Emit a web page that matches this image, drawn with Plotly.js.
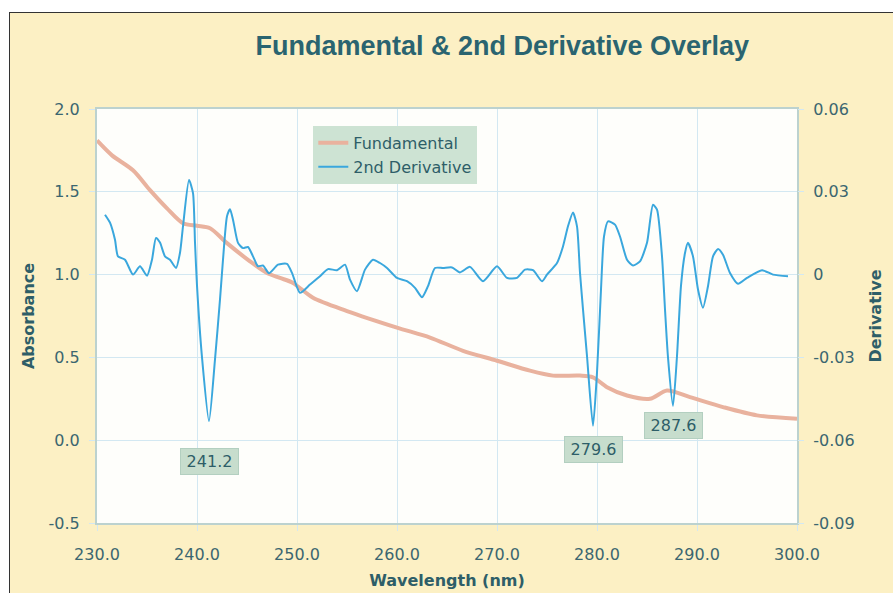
<!DOCTYPE html>
<html>
<head>
<meta charset="utf-8">
<script src="https://cdn.plot.ly/plotly-3.0.1.min.js"></script>
<style>
  html, body { margin: 0; padding: 0; background: #ffffff; overflow: hidden; width: 893px; height: 593px; }
  #frame { position: absolute; left: 9px; top: 12px; width: 900px; height: 600px; border: 1px solid #333; background: #FCF0C4; }
  #chart { width: 900px; height: 600px; }
</style>
</head>
<body>
<div id="frame"><div id="chart"></div></div>
<script>
// Fundamental absorbance spectrum (wavelength nm, absorbance)
const fundWavelength = [230.0, 231.5, 233.6, 235.3, 237.0, 238.6, 240.0, 241.3, 243.0, 245.3, 247.0, 248.3, 249.6, 251.6, 255.0, 260.0, 263.3, 266.6, 270.0, 273.3, 275.6, 278.3, 279.6, 281.0, 283.0, 285.3, 287.0, 289.3, 292.6, 296.0, 300.0];
const fundAbsorbance = [1.81, 1.72, 1.63, 1.51, 1.40, 1.31, 1.295, 1.28, 1.19, 1.08, 1.01, 0.98, 0.95, 0.86, 0.78, 0.68, 0.62, 0.54, 0.48, 0.42, 0.39, 0.39, 0.38, 0.32, 0.27, 0.25, 0.30, 0.26, 0.20, 0.15, 0.13];

// 2nd derivative spectrum (wavelength nm, derivative)
const derivWavelength = [230.8, 231.3, 231.8, 232.1, 232.8, 233.6, 234.3, 235.0, 235.5, 235.9, 236.3, 236.8, 237.3, 237.9, 238.3, 238.6, 239.2, 239.6, 239.8, 240.0, 240.5, 241.2, 241.8, 242.3, 242.6, 243.0, 243.3, 243.6, 244.1, 244.6, 245.1, 245.6, 246.1, 246.6, 247.2, 248.1, 249.0, 249.5, 250.3, 251.3, 252.3, 253.1, 254.0, 254.8, 255.3, 256.0, 256.8, 257.6, 258.3, 259.0, 260.0, 261.0, 261.8, 262.5, 263.1, 263.8, 264.6, 265.5, 266.3, 267.3, 268.6, 270.0, 271.0, 272.0, 272.8, 273.6, 274.5, 275.0, 276.0, 276.6, 277.1, 277.6, 278.0, 278.3, 278.6, 279.0, 279.6, 280.0, 280.4, 280.7, 281.1, 281.8, 282.3, 283.0, 283.6, 284.3, 285.0, 285.6, 286.0, 286.5, 286.8, 287.1, 287.6, 288.0, 288.4, 288.8, 289.1, 289.6, 290.1, 290.6, 291.1, 291.6, 292.1, 292.6, 293.3, 294.1, 295.0, 296.5, 297.6, 299.1];
const derivValue = [0.0217, 0.0188, 0.0126, 0.0066, 0.0054, 0.0000, 0.0030, -0.0004, 0.0054, 0.0133, 0.0116, 0.0066, 0.0054, 0.0024, 0.0079, 0.0175, 0.0343, 0.0295, 0.0116, -0.0040, -0.0300, -0.0531, -0.0307, -0.0090, 0.0054, 0.0211, 0.0237, 0.0199, 0.0115, 0.0096, 0.0100, 0.0066, 0.0030, 0.0033, 0.0005, 0.0036, 0.0039, 0.0006, -0.0066, -0.0036, -0.0006, 0.0020, 0.0016, 0.0036, -0.0018, -0.0060, 0.0018, 0.0054, 0.0042, 0.0024, -0.0012, -0.0024, -0.0048, -0.0082, -0.0042, 0.0024, 0.0024, 0.0026, 0.0008, 0.0028, -0.0024, 0.0030, -0.0012, -0.0012, 0.0018, 0.0016, -0.0024, 0.0000, 0.0042, 0.0102, 0.0175, 0.0225, 0.0175, 0.0006, -0.0126, -0.0295, -0.0548, -0.0355, -0.0054, 0.0138, 0.0193, 0.0181, 0.0138, 0.0054, 0.0033, 0.0048, 0.0115, 0.0253, 0.0235, 0.0066, -0.0126, -0.0300, -0.0476, -0.0295, -0.0040, 0.0078, 0.0115, 0.0066, -0.0054, -0.0120, -0.0042, 0.0066, 0.0093, 0.0072, 0.0006, -0.0033, -0.0012, 0.0016, 0.0000, -0.0006];

// Peak labels
const peakLabels = ["241.2", "279.6", "287.6"];
const peakLabelY = [0.1486, 0.1787, 0.2367]; // paper position of the label boxes

// Axis ticks
const xTicks = [230, 240, 250, 260, 270, 280, 290, 300];
const xTickText = ["230.0", "240.0", "250.0", "260.0", "270.0", "280.0", "290.0", "300.0"];
const yTicks = [-0.5, 0, 0.5, 1.0, 1.5, 2.0];
const yTickText = ["-0.5", "0.0", "0.5", "1.0", "1.5", "2.0"];
const y2Ticks = [-0.09, -0.06, -0.03, 0, 0.03, 0.06];
const y2TickText = ["-0.09", "-0.06", "-0.03", "0", "0.03", "0.06"];

const textColor = '#3B6670';
const gridColor = '#D3E8F2';
const tickFont = {family: 'DejaVu Sans, sans-serif', size: 16, color: textColor};
const axTitleFont = {family: 'DejaVu Sans, sans-serif', size: 16, color: '#2E5E68', weight: 'bold'};

const traces = [
  {
    x: fundWavelength, y: fundAbsorbance, name: 'Fundamental', type: 'scatter', mode: 'lines',
    line: {color: '#E9B29E', width: 4, shape: 'spline', smoothing: 0.8}, yaxis: 'y'
  },
  {
    x: derivWavelength, y: derivValue, name: '2nd Derivative', type: 'scatter', mode: 'lines',
    line: {color: '#3AA7DD', width: 2, shape: 'spline', smoothing: 0.6}, yaxis: 'y2'
  }
];

const annotations = peakLabels.map((t, i) => ({
  x: parseFloat(t), xref: 'x', y: peakLabelY[i], yref: 'paper', yanchor: 'middle', xanchor: 'center',
  text: t, showarrow: false, width: 55, height: 23,
  bgcolor: '#C7DDCD', bordercolor: '#B3CFC0', borderwidth: 1,
  font: {family: 'DejaVu Sans, sans-serif', size: 16, color: '#2E5E68'}
}));

const layout = {
  width: 900, height: 600,
  margin: {l: 87, r: 113, t: 96, b: 90},
  paper_bgcolor: '#FCF0C4',
  plot_bgcolor: '#FEFEFB',
  showlegend: true,
  title: {
    text: 'Fundamental & 2nd Derivative Overlay',
    xref: 'container', x: 0.547, xanchor: 'center',
    yref: 'container', y: 0.945, yanchor: 'middle',
    font: {family: 'Liberation Sans, Arial, sans-serif', size: 27, color: '#2A6470', weight: 'bold'}
  },
  xaxis: {
    range: [230, 300], tickvals: xTicks, ticktext: xTickText,
    showgrid: true, gridcolor: gridColor, gridwidth: 1, zeroline: false,
    showline: true, mirror: true, linecolor: '#BCD2CF', linewidth: 2,
    ticks: 'outside', ticklen: 6, tickcolor: gridColor, ticklabelstandoff: 10,
    tickfont: tickFont, automargin: false,
    title: {text: 'Wavelength (nm)', font: axTitleFont, standoff: 12}
  },
  yaxis: {
    range: [-0.5, 2.0], tickvals: yTicks, ticktext: yTickText,
    showgrid: true, gridcolor: gridColor, gridwidth: 1, zeroline: false,
    showline: true, mirror: true, linecolor: '#BCD2CF', linewidth: 2,
    ticks: 'outside', ticklen: 6, tickcolor: gridColor, ticklabelstandoff: 6,
    tickfont: tickFont, automargin: false,
    title: {text: 'Absorbance', font: axTitleFont, standoff: 10}
  },
  yaxis2: {
    range: [-0.09, 0.06], tickvals: y2Ticks, ticktext: y2TickText,
    overlaying: 'y', side: 'right', showgrid: false, zeroline: false,
    ticks: 'outside', ticklen: 6, tickcolor: gridColor, ticklabelstandoff: 6,
    tickfont: tickFont, automargin: false,
    title: {text: 'Derivative', font: axTitleFont, standoff: 16}
  },
  legend: {
    x: 0.309, y: 0.959, xanchor: 'left', yanchor: 'top',
    bgcolor: '#CDE3D3', borderwidth: 0,
    font: {family: 'DejaVu Sans, sans-serif', size: 16, color: '#2E5E68'},
    tracegroupgap: 0
  },
  annotations: annotations
};

Plotly.newPlot('chart', traces, layout, {displayModeBar: false, staticPlot: true});
</script>
</body>
</html>
